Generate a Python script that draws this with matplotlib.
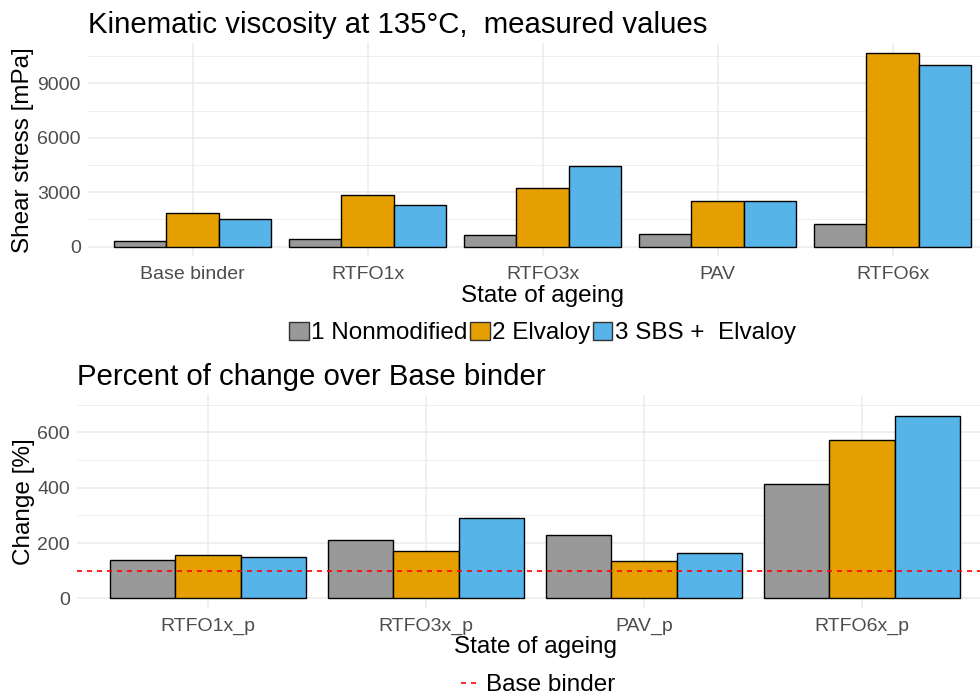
import numpy as np
import matplotlib
matplotlib.use("Agg")
import matplotlib.pyplot as plt
from matplotlib.lines import Line2D
from matplotlib.patches import Patch

plt.rcParams['font.family'] = ['Liberation Sans', 'DejaVu Sans']

# data
states = ["Base binder", "RTFO1x", "RTFO3x", "PAV", "RTFO6x"]
nonmodified = [314, 424, 644, 716, 1250]
elvaloy = [1873, 2864, 3217, 2517, 10685]
sbs_elvaloy = [1542, 2280, 4445, 2517, 10024]

states_p = ["RTFO1x_p", "RTFO3x_p", "PAV_p", "RTFO6x_p"]
nonmodified_p = [138, 212, 229, 412]
elvaloy_p = [155, 172, 135, 573]
sbs_elvaloy_p = [148, 291, 165, 659]
base_line = 100

series_names = ["1 Nonmodified", "2 Elvaloy", "3 SBS +  Elvaloy"]
colors = ["#999999", "#E69F00", "#56B4E9"]

grid_col = "#EBEBEB"
tick_col = "#4D4D4D"


def style_axes(ax):
    for s in ax.spines.values():
        s.set_visible(False)
    ax.set_axisbelow(True)
    ax.tick_params(which="both", length=0, labelsize=14, labelcolor=tick_col)
    ax.tick_params(axis="x", pad=7)
    ax.tick_params(axis="y", pad=5)
    ax.grid(which="major", color=grid_col, linewidth=1.1)
    ax.grid(which="minor", axis="y", color=grid_col, linewidth=0.6)


def grouped_bars(ax, cats, groups):
    x = np.arange(len(cats))
    w = 0.3
    for i, vals in enumerate(groups):
        ax.bar(x + (i - 1) * w, vals, width=w, color=colors[i],
               edgecolor="black", linewidth=1.0, label=series_names[i])
    ax.set_xticks(x)
    ax.set_xticklabels(cats)
    ax.set_xlim(-0.6, len(cats) - 0.4)


fig = plt.figure(figsize=(9.8, 7), dpi=100)

# top panel: measured values
ax1 = fig.add_axes([0.0895, 0.6337, 0.9286, 0.3049])
grouped_bars(ax1, states, [nonmodified, elvaloy, sbs_elvaloy])
ax1.set_ylim(-534, 11220)
ax1.set_yticks([0, 3000, 6000, 9000])
ax1.set_yticks([1500, 4500, 7500, 10500], minor=True)
style_axes(ax1)
ax1.set_title("Kinematic viscosity at 135°C,  measured values", loc="left",
              fontsize=21.2, pad=7)
ax1.set_xlabel("State of ageing", fontsize=17.5, labelpad=1)
ax1.set_ylabel("Shear stress [mPa]", fontsize=17.5, labelpad=2)

handles = [Patch(facecolor=c, edgecolor="#333333", linewidth=1.0) for c in colors]
fig.legend(handles, series_names, loc="center", bbox_to_anchor=(0.5536, 1 - 333 / 700),
           ncol=3, frameon=False, fontsize=17.5, handlelength=0.8, handleheight=0.8,
           handletextpad=0.1, columnspacing=0.1, borderpad=0)

# bottom panel: percent change
ax2 = fig.add_axes([0.0786, 0.1314, 0.9347, 0.3043])
grouped_bars(ax2, states_p, [nonmodified_p, elvaloy_p, sbs_elvaloy_p])
ax2.axhline(base_line, color="red", linestyle=(0, (3, 3)), linewidth=1.2)
ax2.set_ylim(-35, 735)
ax2.set_yticks([0, 200, 400, 600])
ax2.set_yticks([100, 300, 500, 700], minor=True)
style_axes(ax2)
ax2.set_title("Percent of change over Base binder", loc="left", fontsize=21.2, pad=7)
ax2.set_xlabel("State of ageing", fontsize=17.5, labelpad=1)
ax2.set_ylabel("Change [%]", fontsize=17.5, labelpad=2)

line_handle = [Line2D([0], [0], color="red", linestyle=(0, (3, 3)), linewidth=1.2)]
fig.legend(line_handle, ["Base binder"], loc="center", bbox_to_anchor=(0.549, 1 - 685 / 700),
           frameon=False, fontsize=17.5, handlelength=0.75, handletextpad=0.25, borderpad=0)

fig.savefig("out.png", dpi=100)
